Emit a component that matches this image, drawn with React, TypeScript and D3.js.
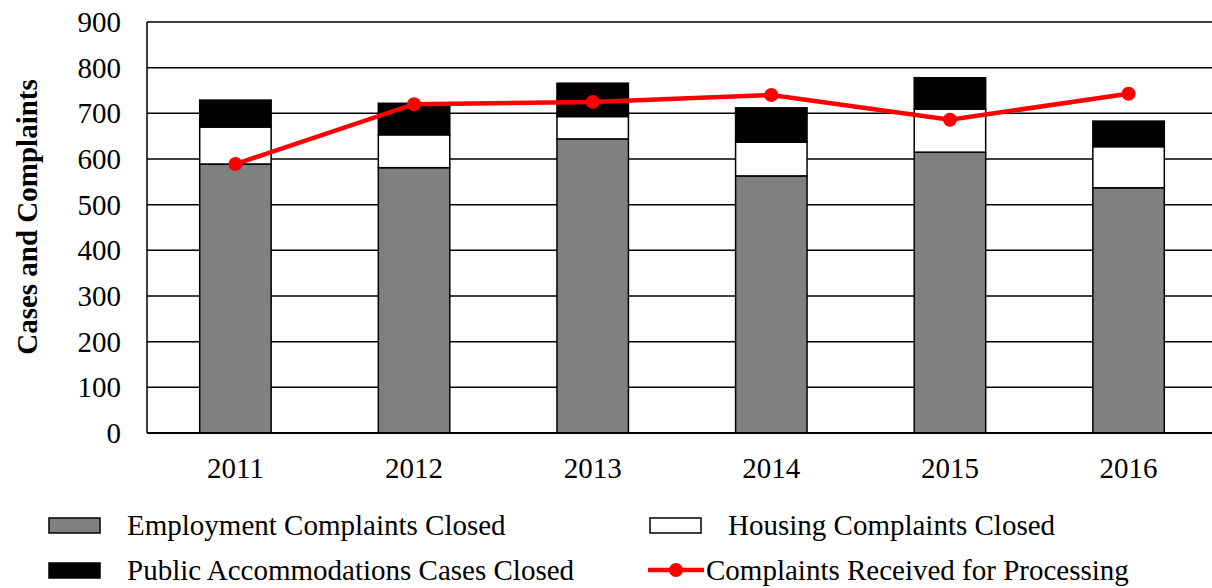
import React from "react";
import * as d3 from "d3";

const years = ["2011", "2012", "2013", "2014", "2015", "2016"];
const employment = [589, 581, 644, 563, 615, 537];
const housing = [81, 72, 49, 74, 94, 90];
const publicAcc = [59, 69, 73, 75, 69, 56];
const received = [589, 720, 725, 740, 686, 743];
const yTicks = [0, 100, 200, 300, 400, 500, 600, 700, 800, 900];

const W = 1212, H = 588;
const M = { left: 147, right: 1217, top: 22, bottom: 433 };
const FONT = "'Liberation Serif', 'Times New Roman', serif";
const FS = 29;

export default function App() {
  const x = d3.scaleBand().domain(years).range([M.left, M.right]).paddingInner(0.6).paddingOuter(0.295);
  const y = d3.scaleLinear().domain([0, 900]).range([M.bottom, M.top]);
  const series = [
    { name: "Employment Complaints Closed", vals: employment, fill: "#808080" },
    { name: "Housing Complaints Closed", vals: housing, fill: "#ffffff" },
    { name: "Public Accommodations Cases Closed", vals: publicAcc, fill: "#000000" },
  ];
  const rects: any[] = [];
  years.forEach((yr, i) => {
    let base = 0;
    series.forEach((s, j) => {
      const v = s.vals[i];
      rects.push(
        <rect key={yr + j} x={x(yr)} width={x.bandwidth()} y={y(base + v)} height={y(base) - y(base + v)}
          fill={s.fill} stroke="#000" strokeWidth={1.5} />
      );
      base += v;
    });
  });
  const cx = (yr: string) => (x(yr) as number) + x.bandwidth() / 2;
  const line = d3.line<number>().x((_, i) => cx(years[i])).y((d) => y(d));

  return (
    <svg width={W} height={H} style={{ position: "absolute", left: 0, top: 0 }} fontFamily={FONT}>
      <rect width={W} height={H} fill="#fff" />
      {yTicks.map((t) => (
        <g key={t}>
          {t > 0 && <line x1={M.left} x2={W} y1={y(t)} y2={y(t)} stroke="#000" strokeWidth={1.5} />}
          <text x={121} y={y(t)} dy="0.35em" textAnchor="end" fontSize={FS}>{t}</text>
        </g>
      ))}
      {rects}
      <line x1={M.left} x2={M.left} y1={M.top} y2={M.bottom} stroke="#000" strokeWidth={1.5} />
      <line x1={M.left} x2={W} y1={M.bottom} y2={M.bottom} stroke="#000" strokeWidth={2} />
      <path d={line(received) as string} fill="none" stroke="#ff0000" strokeWidth={4.5} />
      {received.map((v, i) => (
        <circle key={i} cx={cx(years[i])} cy={y(v)} r={7} fill="#ff0000" />
      ))}
      {years.map((yr) => (
        <text key={yr} x={cx(yr)} y={468} dy="0.35em" textAnchor="middle" fontSize={FS}>{yr}</text>
      ))}
      <text transform={`translate(27,217) rotate(-90)`} dy="0.35em" textAnchor="middle" fontSize={FS} fontWeight="bold">Cases and Complaints</text>
      {/* legend */}
      <g fontSize={FS}>
        <rect x={49} y={518} width={51} height={15} fill="#808080" stroke="#000" strokeWidth={1.5} />
        <text x={127} y={525} dy="0.35em">Employment Complaints Closed</text>
        <rect x={650} y={518} width={51} height={15} fill="#fff" stroke="#000" strokeWidth={1.5} />
        <text x={728} y={525} dy="0.35em">Housing Complaints Closed</text>
        <rect x={49} y={563} width={51} height={15} fill="#000" stroke="#000" strokeWidth={1.5} />
        <text x={127} y={570} dy="0.35em">Public Accommodations Cases Closed</text>
        <line x1={648} x2={704} y1={570} y2={570} stroke="#ff0000" strokeWidth={4.5} />
        <circle cx={676} cy={570} r={7} fill="#ff0000" />
        <text x={706} y={570} dy="0.35em">Complaints Received for Processing</text>
      </g>
    </svg>
  );
}
